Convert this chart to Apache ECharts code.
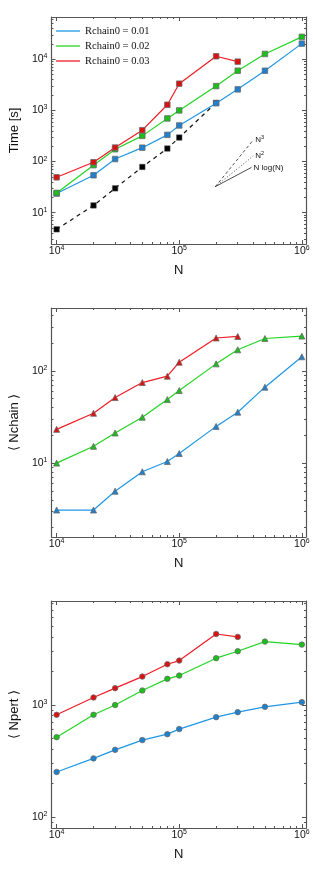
<!DOCTYPE html>
<html><head><meta charset="utf-8">
<script src="https://cdn.jsdelivr.net/npm/echarts@6/dist/echarts.min.js"></script>
<style>html,body{margin:0;padding:0;background:#fff}#c{width:313px;height:872px}</style>
</head><body><div id="c"></div>
<script>
// ---- data ----
const N = [1e4, 2e4, 3e4, 5e4, 8e4, 1e5, 2e5, 3e5, 5e5, 1e6];
const seriesNames = ['Rchain0 = 0.01', 'Rchain0 = 0.02', 'Rchain0 = 0.03'];
const time001 = [23.7, 54, 112, 187, 333, 508, 1380, 2580, 5970, 20200];
const time002 = [24.4, 85, 174, 318, 697, 1000, 2990, 5970, 12700, 27400];
const time003 = [49.3, 97, 188, 411, 1290, 3330, 11440, 8980];
const timeRef = [4.74, 13.9, 30, 78.5, 180, 295, 1410];
const nchain001 = [3.1, 3.1, 4.96, 8.05, 10.4, 12.7, 25, 35.6, 66.5, 142];
const nchain002 = [10, 15.2, 21.2, 31.4, 48.8, 61.1, 119, 169, 224, 238];
const nchain003 = [23.2, 34.7, 51.3, 74.6, 87.5, 124, 227, 236];
const npert001 = [252, 333, 397, 485, 548, 608, 777, 861, 960, 1057];
const npert002 = [515, 815, 997, 1342, 1706, 1824, 2607, 3007, 3664, 3444];
const npert003 = [815, 1162, 1409, 1787, 2303, 2482, 4285, 4035];
// scaling guide lines (start point, end points)
const guideStart = [197000, 32.4];
const guideN3End = [402000, 265];
const guideN2End = [402000, 129];
const guideNlogNEnd = [389000, 77];
const guideLabels = ['{n|N}{s|3}', '{n|N}{s|2}', '{n|N log(N)}'];
const xTickExp = [4, 5, 6];
const yTickExp = [[1, 2, 3, 4], [1, 2], [2, 3]];
const yNames = ['Time [s]', '\u27E8 Nchain \u27E9', '\u27E8 Npert \u27E9'];

// ---- layout ----
const FONT = 'Liberation Sans';
const colors = ['#1e96e6', '#22d422', '#ee1c24'];
const markerFill = ['#1f80d0', '#18c018', '#dd1010'];
const grids = [
  {left: 44, top: 17, width: 262, height: 227},
  {left: 44, top: 308, width: 262, height: 229},
  {left: 44, top: 601, width: 262, height: 227}
];
const xRange = [3.958, 6.034];
const yRanges = [[0.389, 4.826], [0.199, 2.681], [1.902, 3.926]];
const symbols = ['rect', 'triangle', 'circle'];
const symSizes = [5.5, 6, 5.5];

const L = Math.log10;
function minors(lo, hi) {
  const out = [];
  for (let n = Math.floor(lo); n <= Math.ceil(hi); n++) {
    for (let k = 2; k <= 9; k++) {
      const v = n + L(k);
      if (v > lo && v < hi) out.push(v);
    }
  }
  return out;
}
const rich = {
  b: {fontSize: 10.5, fontFamily: FONT, color: '#111', lineHeight: 13},
  s: {fontSize: 7, fontFamily: FONT, color: '#111', lineHeight: 7, verticalAlign: 'top'}
};
function powLabel(v) { return '{b|10}{s|' + Math.round(v) + '}'; }
const axisLineStyle = {show: true, lineStyle: {color: '#555', width: 1.2}};

const xAxes = [], yAxes = [];
grids.forEach((g, gi) => {
  const xr = xRange, yr = yRanges[gi];
  const xMaj = xTickExp, yMaj = yTickExp[gi];
  const xMin = minors(xr[0], xr[1]), yMin = minors(yr[0], yr[1]);
  const base = {type: 'value', gridIndex: gi, splitLine: {show: false}, scale: true};
  xAxes.push(Object.assign({}, base, {
    min: xr[0], max: xr[1], position: 'bottom', axisLine: axisLineStyle,
    axisTick: {show: true, inside: true, length: 4, customValues: xMaj, lineStyle: {color: '#555'}},
    axisLabel: {show: true, customValues: xMaj, margin: 1, formatter: powLabel, rich: rich},
    name: 'N', nameLocation: 'middle', nameGap: 20,
    nameTextStyle: {fontFamily: FONT, fontSize: 13, color: '#111'}
  }));
  xAxes.push(Object.assign({}, base, {
    min: xr[0], max: xr[1], position: 'bottom', axisLine: {show: false},
    axisTick: {show: true, inside: true, length: 2, customValues: xMin, lineStyle: {color: '#555'}},
    axisLabel: {show: false}
  }));
  xAxes.push(Object.assign({}, base, {
    min: xr[0], max: xr[1], position: 'top', axisLine: axisLineStyle,
    axisTick: {show: true, inside: true, length: 4, customValues: xMaj, lineStyle: {color: '#555'}},
    axisLabel: {show: false}
  }));
  xAxes.push(Object.assign({}, base, {
    min: xr[0], max: xr[1], position: 'top', axisLine: {show: false},
    axisTick: {show: true, inside: true, length: 2, customValues: xMin, lineStyle: {color: '#555'}},
    axisLabel: {show: false}
  }));
  yAxes.push(Object.assign({}, base, {
    min: yr[0], max: yr[1], position: 'left', axisLine: axisLineStyle,
    axisTick: {show: true, inside: true, length: 4, customValues: yMaj, lineStyle: {color: '#555'}},
    axisLabel: {show: true, customValues: yMaj, margin: 4, formatter: powLabel, rich: rich},
    name: yNames[gi], nameLocation: 'middle', nameGap: 30, nameRotate: 90,
    nameTextStyle: {fontFamily: FONT, fontSize: 13, color: '#111'}
  }));
  yAxes.push(Object.assign({}, base, {
    min: yr[0], max: yr[1], position: 'left', axisLine: {show: false},
    axisTick: {show: true, inside: true, length: 2, customValues: yMin, lineStyle: {color: '#555'}},
    axisLabel: {show: false}
  }));
  yAxes.push(Object.assign({}, base, {
    min: yr[0], max: yr[1], position: 'right', axisLine: axisLineStyle,
    axisTick: {show: true, inside: true, length: 4, customValues: yMaj, lineStyle: {color: '#555'}},
    axisLabel: {show: false}
  }));
  yAxes.push(Object.assign({}, base, {
    min: yr[0], max: yr[1], position: 'right', axisLine: {show: false},
    axisTick: {show: true, inside: true, length: 2, customValues: yMin, lineStyle: {color: '#555'}},
    axisLabel: {show: false}
  }));
});

function pts(ys) { return ys.map((y, i) => [L(N[i]), L(y)]); }
function dataSeries(name, ys, gi, ci) {
  return {
    type: 'line', name: name, xAxisIndex: gi * 4, yAxisIndex: gi * 4,
    data: pts(ys), symbol: symbols[gi], symbolSize: symSizes[gi],
    lineStyle: {color: colors[ci], width: 1.2},
    itemStyle: {color: markerFill[ci], borderColor: '#6a6a6a', borderWidth: 0.8},
    z: 3, silent: true
  };
}
const panels = [[time001, time002, time003], [nchain001, nchain002, nchain003], [npert001, npert002, npert003]];
const series = [];
series.push({
  type: 'line', name: 'ref', xAxisIndex: 0, yAxisIndex: 0, data: pts(timeRef),
  symbol: 'rect', symbolSize: 5.5,
  lineStyle: {color: '#111', width: 1.2, type: [4, 4]},
  itemStyle: {color: '#000', borderColor: '#555', borderWidth: 0.5}, z: 2
});
panels.forEach((arr, gi) => arr.forEach((ys, ci) => series.push(dataSeries(seriesNames[ci], ys, gi, ci))));
const guideEnds = [guideN3End, guideN2End, guideNlogNEnd];
const guideTypes = [[3, 2.5], [1, 2], 'solid'];
guideEnds.forEach((e, i) => {
  series.push({
    type: 'line', name: 'guide' + i, xAxisIndex: 0, yAxisIndex: 0,
    data: [[L(guideStart[0]), L(guideStart[1])], [L(e[0]), L(e[1])]],
    symbol: 'none', lineStyle: {color: '#222', width: 0.8, type: guideTypes[i]},
    endLabel: {show: true, formatter: guideLabels[i], distance: 2,
      rich: {n: {fontSize: 8, fontFamily: FONT, color: '#111', lineHeight: 10},
             s: {fontSize: 5.5, fontFamily: FONT, color: '#111', lineHeight: 6, verticalAlign: 'top'}}},
    z: 1
  });
});

const chart = echarts.init(document.getElementById('c'), null, {renderer: 'canvas'});
chart.setOption({
  animation: false,
  backgroundColor: '#fff',
  grid: grids,
  xAxis: xAxes,
  yAxis: yAxes,
  legend: {
    data: seriesNames.map((n, i) => ({name: n, icon: 'rect', itemStyle: {color: colors[i], borderWidth: 0}})),
    orient: 'vertical', left: 56, top: 25, padding: 0,
    itemWidth: 24, itemHeight: 1.3, itemGap: 3,
    itemStyle: {borderWidth: 0},
    textStyle: {fontFamily: 'Liberation Serif', fontSize: 10.5, color: '#111', lineHeight: 12},
    selectedMode: false
  },
  series: series
});
</script></body></html>
